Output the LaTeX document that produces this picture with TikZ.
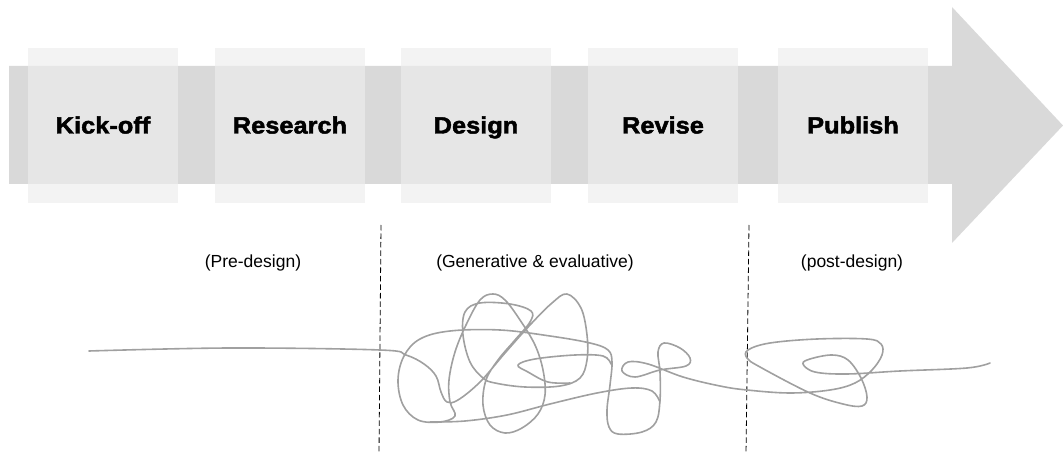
\documentclass[tikz,border=0pt]{standalone}
\usepackage{fontspec}
\setmainfont{Liberation Sans}
\newfontfamily\stagefont[FakeStretch=1.08,FakeBold=2]{Liberation Sans}
\definecolor{shaftgray}{HTML}{D9D9D9}
\definecolor{boxgray}{HTML}{EDEDED}
\definecolor{scribble}{HTML}{A0A0A0}
\begin{document}
\begin{tikzpicture}[x=1pt,y=-1pt,
  stagebox/.style={fill=boxgray,fill opacity=0.66,text opacity=1,
    minimum width=150pt,minimum height=155pt,inner sep=0pt,outer sep=0pt,
    text height=16pt,text depth=0pt,
    font=\stagefont\bfseries\fontsize{23.5}{24}\selectfont},
  phase/.style={anchor=base,inner sep=0pt,font=\fontsize{17.5}{18}\selectfont},
  divider/.style={draw=black,line width=0.8pt,dash pattern=on 5.5pt off 3pt},
  pathline/.style={draw=scribble,line width=1.6pt,line cap=round,line join=round}]
\useasboundingbox (0,0) rectangle (1063,454);

% the big process arrow
\fill[shaftgray] (9,66) -- (952,66) -- (952,7) -- (1063,125.5) -- (952,243)
  -- (952,184) -- (9,184) -- cycle;

% stages on the arrow
\node[stagebox] (kick)     at (103,125.5) {Kick-off};
\node[stagebox] (research) at (290,125.5) {Research};
\node[stagebox] (design)   at (476,125.5) {Design};
\node[stagebox] (revise)   at (663,125.5) {Revise};
\node[stagebox] (publish)  at (853,125.5) {Publish};

% phase captions
\node[phase] (pre)  at (253,268) {(Pre-design)};
\node[phase] (gen)  at (535,268) {(Generative \& evaluative)};
\node[phase] (post) at (852,268) {(post-design)};

% phase dividers
\coordinate (d1top) at (381,225);
\coordinate (d1bot) at (379,454);
\coordinate (d2top) at (749,225);
\coordinate (d2bot) at (746,454);
\draw[divider] (d1top) -- (d1bot);
\draw[divider] (d2top) -- (d2bot);

% the squiggle: straight, tangled, then calmer again
\draw[pathline] plot[smooth,tension=0.6] coordinates {
  (89,351) (230,348) (380,350) (406,355) (424,364) (436,376) (441,392)
  (447,402) (458,400) (480,382) (505,353) (530,325) (552,303) (567,294)
  (581,308) (587,335) (587,360) (580,378) (560,386) (525,387) (495,383)
  (483,378) (470,362) (463,335) (465,312) (480,303) (510,304) (531,311)
  (530,322) (515,340) (498,360) (486,380) (483,405) (490,425) (505,433)
  (522,428) (538,414) (545,395) (543,370) (535,345) (520,320) (505,300)
  (493,294) (480,300) (466,325) (455,352) (449,380) (450,402) (455,416)
  (440,422) (418,420) (403,405) (398,380) (404,356) (420,339) (450,331)
  (500,330) (550,336) (590,343) (608,350) (612,362) (610,385) (607,410)
  (609,427) (618,434) (642,432) (656,422) (660,400) (660,372) (658,352)
  (664,343) (680,348) (690,358) (686,366) (660,370) (635,377) (622,371)
  (628,362) (648,364) (683,377) (720,386) (747,390) (790,393) (830,390)
  (855,383) (872,370) (882,355) (881,344) (867,339) (817,339) (770,343)
  (748,350) (747,358) (760,367) (810,393) (843,404) (862,406) (867,397)
  (861,378) (848,360) (832,355) (810,359) (803,364) (815,372) (847,374)
  (900,371) (967,368) (990,363)};
\draw[pathline] plot[smooth,tension=0.6] coordinates {
  (430,422) (465,421) (507,415) (550,404) (597,393) (632,388) (652,391)
  (660,402)};
\draw[pathline] plot[smooth,tension=0.6] coordinates {
  (570,383) (548,382) (528,372) (518,365) (535,359) (575,355) (603,356)
  (611,364)};
\end{tikzpicture}
\end{document}
